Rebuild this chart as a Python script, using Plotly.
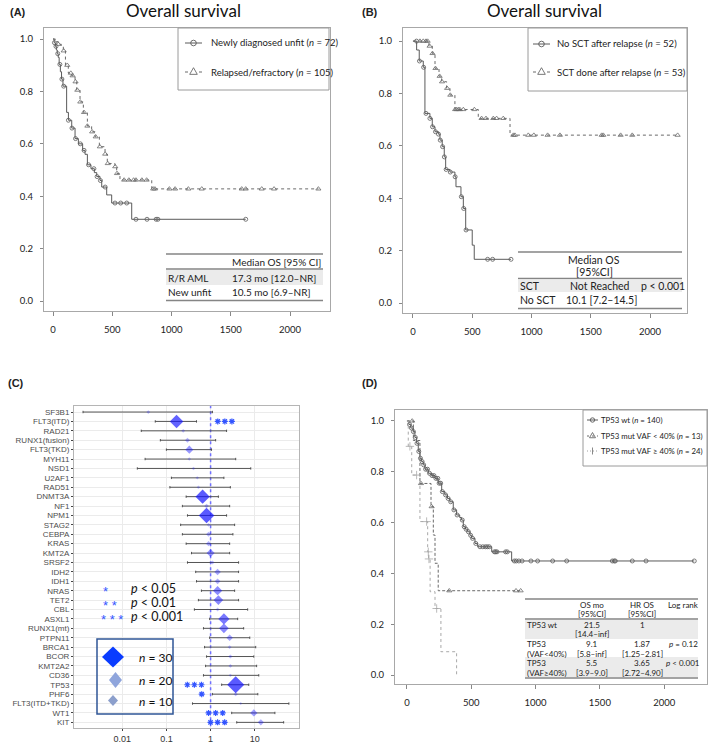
import numpy as np
import plotly.graph_objects as go

W, H = 709, 744
FONT = "Lato"
ARIAL = "Liberation Sans"

# ---- (A) overall survival: newly diagnosed unfit vs relapsed/refractory ----
a_new_t = [0, 10, 20, 28, 36, 44, 52, 62, 72, 84, 115, 130, 158, 186, 214, 250, 270, 290, 320, 349, 369, 397, 411, 453, 495, 664, 1626]
a_new_s = [1.0, 0.986, 0.972, 0.958, 0.944, 0.93, 0.903, 0.875, 0.847, 0.82, 0.72, 0.69, 0.66, 0.62, 0.6, 0.575, 0.56, 0.52, 0.505, 0.49, 0.475, 0.46, 0.435, 0.405, 0.374, 0.312, 0.312]
a_new_cens = [12, 25, 40, 58, 75, 90, 130, 160, 190, 230, 262, 300, 345, 372, 400, 440, 523, 571, 622, 700, 793, 870, 885, 1626]

a_rr_t = [0, 20, 45, 70, 87, 105, 129, 158, 186, 200, 228, 256, 290, 326, 355, 391, 439, 458, 523, 537, 565, 833, 2239]
a_rr_s = [1.0, 0.99, 0.98, 0.97, 0.955, 0.9, 0.87, 0.86, 0.837, 0.805, 0.76, 0.72, 0.668, 0.646, 0.627, 0.589, 0.561, 0.525, 0.513, 0.487, 0.462, 0.428, 0.428]
a_rr_cens = [45, 90, 120, 150, 165, 190, 205, 230, 262, 290, 330, 360, 395, 440, 462, 525, 540, 600, 640, 680, 700, 750, 790,
             845, 860, 982, 1030, 1142, 1255, 1592, 1626, 1761, 1865, 2239]

# ---- (B) SCT after relapse ----
b_no_t = [0, 31, 53, 87, 101, 143, 163, 186, 214, 228, 247, 264, 276, 312, 354, 363, 405, 425, 445, 500, 517, 827]
b_no_s = [1.0, 0.966, 0.924, 0.9, 0.724, 0.705, 0.673, 0.654, 0.645, 0.622, 0.597, 0.558, 0.51, 0.5, 0.482, 0.444, 0.406, 0.361, 0.279, 0.221, 0.167, 0.167]
b_no_cens = [30, 55, 90, 110, 143, 165, 190, 215, 230, 250, 265, 280, 315, 356, 408, 428, 448, 630, 672, 827]

b_sct_t = [0, 135, 163, 186, 220, 242, 284, 312, 354, 551, 819, 2233]
b_sct_s = [1.0, 0.981, 0.953, 0.896, 0.866, 0.845, 0.82, 0.794, 0.739, 0.705, 0.641, 0.641]
b_sct_cens = [59, 87, 110, 124, 140, 165, 190, 225, 245, 288, 315, 356, 368, 383, 396, 425, 518, 579, 616, 678, 706, 762,
              847, 860, 973, 1020, 1136, 1240, 1592, 1606, 1752, 1850, 2233]

# ---- (C) hazard ratios by mutated gene ----
genes = ["SF3B1", "FLT3(ITD)", "RAD21", "RUNX1(fusion)", "FLT3(TKD)", "MYH11", "NSD1", "U2AF1", "RAD51", "DNMT3A",
         "NF1", "NPM1", "STAG2", "CEBPA", "KRAS", "KMT2A", "SRSF2", "IDH2", "IDH1", "NRAS", "TET2", "CBL", "ASXL1",
         "RUNX1(mt)", "PTPN11", "BRCA1", "BCOR", "KMT2A2", "CD36", "TP53", "PHF6", "FLT3(ITD+TKD)", "WT1", "KIT"]
hr = [0.039, 0.17, 0.24, 0.30, 0.33, 0.33, 0.41, 0.50, 0.53, 0.66, 0.81, 0.81, 0.9, 0.9, 0.9, 1.0, 1.1, 1.44, 1.44,
      1.44, 1.5, 1.44, 2.0, 2.0, 2.7, 2.7, 2.8, 2.8, 2.8, 3.7, 3.7, 4.8, 9.5, 13.7]
hr_lo = [0.0013, 0.056, 0.027, 0.073, 0.10, 0.033, 0.022, 0.13, 0.12, 0.28, 0.23, 0.30, 0.21, 0.23, 0.28, 0.37, 0.30,
         0.46, 0.48, 0.62, 0.53, 0.43, 0.95, 0.69, 0.95, 0.73, 0.81, 0.77, 0.69, 1.78, 1.1, 0.39, 3.0, 3.9]
hr_hi = [1.1, 0.48, 2.3, 1.3, 1.05, 3.7, 8.1, 2.0, 2.8, 1.5, 2.7, 2.3, 3.5, 3.2, 2.7, 2.7, 4.3, 4.3, 4.3, 3.5, 4.3,
         6.9, 4.1, 5.6, 7.7, 10.5, 9.5, 11.0, 12.3, 7.3, 11.7, 59.0, 28.5, 45.0]
n_mut = [3, 28, 3, 6, 14, 2, 2, 2, 2, 30, 5, 33, 3, 6, 7, 14, 4, 10, 8, 17, 18, 3, 22, 18, 10, 3, 4, 3, 2, 37, 4, 1, 12, 9]
sig_genes = ["FLT3(ITD)", "TP53", "PHF6", "WT1", "KIT"]
sig_stars = [3, 3, 1, 3, 3]
sig_x = [2.1, 0.43, 0.63, 1.3, 1.44]

# ---- (D) TP53 status ----
d_wt_t = [0, 15, 30, 49, 62, 75, 88, 101, 114, 127, 140, 166, 192, 218, 243, 270, 295, 315, 334, 360, 386, 410, 425,
          438, 455, 472, 490, 503, 529, 550, 659, 814, 2234]
d_wt_s = [1.0, 0.986, 0.972, 0.958, 0.935, 0.912, 0.88, 0.853, 0.84, 0.827, 0.81, 0.794, 0.785, 0.774, 0.755, 0.722,
          0.709, 0.695, 0.682, 0.65, 0.63, 0.62, 0.61, 0.584, 0.574, 0.564, 0.55, 0.538, 0.518, 0.505, 0.485, 0.449, 0.449]
d_wt_cens = [20, 35, 50, 65, 78, 92, 105, 118, 130, 145, 160, 175, 195, 210, 225, 240, 250, 262, 275, 300, 320, 340,
             365, 390, 430, 445, 460, 478, 495, 510, 535, 568, 590, 610, 625, 640, 680, 690, 700, 767, 780, 835, 850,
             870, 895, 964, 1016, 1133, 1242, 1597, 1612, 1620, 1752, 1859, 2234]
d_lo_t = [0, 50, 101, 187, 205, 218, 243, 884]
d_lo_s = [1.0, 0.923, 0.754, 0.663, 0.551, 0.44, 0.332, 0.332]
d_lo_cens = [41, 109, 192, 329, 848, 884]
d_hi_t = [0, 10, 37, 101, 161, 168, 180, 218, 264, 386]
d_hi_s = [1.0, 0.9, 0.787, 0.604, 0.485, 0.457, 0.328, 0.262, 0.092, 0.0]
d_hi_cens = [23, 75, 153, 166, 171, 231]


def fx(x):
    return x / W


def fy(y):
    return 1 - y / H


def surv_at(ts, ss, t):
    val = ss[0]
    for ti, si in zip(ts, ss):
        if ti <= t:
            val = si
        else:
            break
    return val


fig = go.Figure()


def km(t, s, cens, ax, dash, color, symbol, msize, lw=1.0):
    xa, ya = ("x", "y") if ax == 1 else ("x%d" % ax, "y%d" % ax)
    fig.add_trace(go.Scatter(x=t, y=s, mode="lines", line=dict(shape="hv", color=color, width=lw, dash=dash),
                             xaxis=xa, yaxis=ya, showlegend=False, hoverinfo="skip"))
    cy = [surv_at(t, s, c) for c in cens]
    fig.add_trace(go.Scatter(x=cens, y=cy, mode="markers",
                             marker=dict(symbol=symbol, size=msize, color=color, line=dict(color=color, width=0.8)),
                             xaxis=xa, yaxis=ya, showlegend=False, hoverinfo="skip"))


km(a_new_t, a_new_s, a_new_cens, 1, "solid", "#5a5a5a", "circle-open", 4)
km(a_rr_t, a_rr_s, a_rr_cens, 1, "dot", "#6a6a6a", "triangle-up-open", 4.5)
km(b_no_t, b_no_s, b_no_cens, 2, "solid", "#5a5a5a", "circle-open", 4)
km(b_sct_t, b_sct_s, b_sct_cens, 2, "dot", "#6a6a6a", "triangle-up-open", 4.5)
km(d_wt_t, d_wt_s, d_wt_cens, 4, "solid", "#5a5a5a", "circle-open", 4)
km(d_lo_t, d_lo_s, d_lo_cens, 4, "3px,2px", "#6a6a6a", "triangle-up-open", 4.5)
km(d_hi_t, d_hi_s, d_hi_cens, 4, "dot", "#a8a8a8", "cross-thin-open", 6)

# forest plot
rows = list(range(len(genes)))
hr_a = np.array(hr)
sizes = [2 + 0.3 * n for n in n_mut]
cols = ["rgba(20,20,255,%.2f)" % min(1.0, 0.3 + 0.7 * n / 30) for n in n_mut]
fig.add_trace(go.Scatter(x=[1, 1], y=[-2, 40], mode="lines", line=dict(color="#7070ff", width=1.5, dash="dot"),
                         xaxis="x3", yaxis="y3", showlegend=False, hoverinfo="skip"))
fig.add_trace(go.Scatter(
    x=hr, y=rows, mode="markers", xaxis="x3", yaxis="y3", showlegend=False,
    marker=dict(symbol="diamond", size=sizes, color=cols, line=dict(width=0)),
    error_x=dict(type="data", symmetric=False, array=list(np.array(hr_hi) - hr_a),
                 arrayminus=list(hr_a - np.array(hr_lo)), color="#444444", thickness=0.9, width=1.2)))

# significance asterisks next to the rows
star_x, star_y = [], []
for g, k, sx in zip(sig_genes, sig_stars, sig_x):
    for j in range(k):
        star_x.append(sx * 10 ** ((j - (k - 1) / 2) * 0.16))
        star_y.append(genes.index(g))
fig.add_trace(go.Scatter(x=star_x, y=star_y, mode="markers", xaxis="x3", yaxis="y3", showlegend=False,
                         hoverinfo="skip",
                         marker=dict(symbol="asterisk-open", size=5, color="#3355ff",
                                     line=dict(color="#3355ff", width=1.2))))

ann = []
shapes = []


def text(x, y, s, size=10, anchor="left", color="#222222", family=FONT):
    ann.append(dict(x=fx(x), y=fy(y), xref="paper", yref="paper", text=s, showarrow=False,
                    xanchor=anchor, yanchor="middle", font=dict(size=size, color=color, family=family)))


def hline(x0, x1, y, color="#858585", width=1.5, dash="solid"):
    shapes.append(dict(type="line", xref="paper", yref="paper", x0=fx(x0), x1=fx(x1), y0=fy(y), y1=fy(y),
                       line=dict(color=color, width=width, dash=dash)))


def rect(x0, y0, x1, y1, fill="rgba(0,0,0,0)", line="rgba(0,0,0,0)", lw=0):
    shapes.append(dict(type="rect", xref="paper", yref="paper", x0=fx(x0), x1=fx(x1), y0=fy(y0), y1=fy(y1),
                       fillcolor=fill, line=dict(color=line, width=lw), layer="above"))


def circle(cx, cy, r, color="#5a5a5a"):
    shapes.append(dict(type="circle", xref="paper", yref="paper", x0=fx(cx - r), x1=fx(cx + r),
                       y0=fy(cy + r), y1=fy(cy - r), line=dict(color=color, width=0.9)))


def poly(pts, color="#6a6a6a", fill="rgba(0,0,0,0)", lw=0.9):
    p = "M " + " L ".join("%.5f,%.5f" % (fx(a), fy(b)) for a, b in pts) + " Z"
    shapes.append(dict(type="path", xref="paper", yref="paper", path=p, fillcolor=fill,
                       line=dict(color=color, width=lw)))


def tri(cx, cy, r, color="#6a6a6a"):
    poly([(cx, cy - r), (cx + r, cy + r * 0.75), (cx - r, cy + r * 0.75)], color=color)


def diamond(cx, cy, w, h, fill):
    poly([(cx, cy - h / 2), (cx + w / 2, cy), (cx, cy + h / 2), (cx - w / 2, cy)], color=fill, fill=fill, lw=0)


# panel labels and titles
for lx, ly, lab in [(8, 12, "(A)"), (360, 12, "(B)"), (6, 383, "(C)"), (360, 383, "(D)")]:
    text(lx, ly, "<b>%s</b>" % lab, size=11, family=ARIAL)
text(183, 11, "Overall survival", size=17, anchor="center", color="#111111")
text(544, 11, "Overall survival", size=17, anchor="center", color="#111111")

# legend A
rect(178, 28, 329, 90, line="#9a9a9a", lw=1)
hline(185, 202, 43, color="#5a5a5a", width=1)
circle(193.5, 43, 2.8)
hline(185, 202, 72, color="#6a6a6a", width=1, dash="3px,4px")
shapes.append(dict(type="rect", xref="paper", yref="paper", x0=fx(189), x1=fx(198), y0=fy(76), y1=fy(67),
                   fillcolor="white", line=dict(width=0)))
tri(193.5, 71.5, 3.8)
text(209, 43, "Newly diagnosed unfit (<i>n</i> = 72)", size=9.5)
text(209, 72, "Relapsed/refractory (<i>n</i> = 105)", size=9.5)

# table A
hline(166, 323, 254)
text(230, 261.5, "Median OS [95% CI]", size=10)
hline(166, 323, 269)
rect(166, 270, 323, 285, fill="#ebebeb")
text(166, 277.5, "R/R AML", size=10)
text(230, 277.5, "17.3 mo [12.0–NR]", size=10)
text(166, 292.5, "New unfit", size=10)
text(230, 292.5, "10.5 mo [6.9–NR]", size=10)
hline(166, 323, 300.5)

# legend B
rect(528, 28, 687, 91, line="#9a9a9a", lw=1)
hline(533, 550, 44, color="#5a5a5a", width=1)
circle(541.5, 44, 2.8)
hline(533, 550, 72, color="#6a6a6a", width=1, dash="3px,4px")
shapes.append(dict(type="rect", xref="paper", yref="paper", x0=fx(537), x1=fx(546), y0=fy(76), y1=fy(67),
                   fillcolor="white", line=dict(width=0)))
tri(541.5, 71.5, 3.8)
text(555, 44, "No SCT after relapse (<i>n</i> = 52)", size=9.5)
text(555, 72, "SCT done after relapse (<i>n</i> = 53)", size=9.5)

# table B
hline(518, 682, 252)
text(594, 259.5, "Median OS", size=10.5, anchor="center")
text(594, 272, "[95%CI]", size=10.5, anchor="center")
hline(518, 682, 278.5)
rect(518, 279.5, 682, 292, fill="#ebebeb")
text(518, 285.5, "SCT", size=10.5)
text(600, 285.5, "Not Reached", size=10.5, anchor="center")
text(639, 285.5, "p < 0.001", size=10.5)
text(518, 300, "No SCT", size=10.5)
text(601, 300, "10.1 [7.2–14.5]", size=10.5, anchor="center")
hline(518, 682, 308.5)

# legend D
rect(583, 410, 707, 466, line="#9a9a9a", lw=1)
hline(587, 598, 420, color="#5a5a5a", width=1)
circle(592.5, 420, 2.2)
hline(587, 598, 436, color="#6a6a6a", width=1, dash="2px,3px")
tri(592.5, 435.5, 3.0)
hline(587, 598, 451, color="#a0a0a0", width=1, dash="1px,2px")
shapes.append(dict(type="line", xref="paper", yref="paper", x0=fx(592.5), x1=fx(592.5), y0=fy(447.5), y1=fy(454.5),
                   line=dict(color="#888888", width=1)))
text(599, 420, "TP53 wt (<i>n</i> = 140)", size=7.8)
text(599, 436, "TP53 mut VAF < 40% (<i>n</i> = 13)", size=7.8)
text(599, 451, "TP53 mut VAF ≥ 40% (<i>n</i> = 24)", size=7.8)

# table D
hline(525, 698, 599)
text(592, 604.5, "OS mo", size=8, anchor="center")
text(592, 614, "[95%CI]", size=8, anchor="center")
text(642, 604.5, "HR OS", size=8, anchor="center")
text(642, 614, "[95%CI]", size=8, anchor="center")
text(683, 604.5, "Log rank", size=8, anchor="center")
hline(525, 698, 619)
rect(525, 620, 698, 639, fill="#ebebeb")
rect(525, 657, 698, 677, fill="#ebebeb")
text(525, 624.5, "TP53 wt", size=8)
text(592, 624.5, "21.5", size=8, anchor="center")
text(592, 634, "[14.4–inf]", size=8, anchor="center")
text(642, 624.5, "1", size=8, anchor="center")
text(525, 644, "TP53", size=8)
text(525, 653.5, "(VAF<40%)", size=8)
text(592, 644, "9.1", size=8, anchor="center")
text(592, 653.5, "[5.8–inf]", size=8, anchor="center")
text(642, 644, "1.87", size=8, anchor="center")
text(642, 653.5, "[1.25–2.81]", size=8, anchor="center")
text(683, 644, "<i>p</i> = 0.12", size=8, anchor="center")
text(525, 663, "TP53", size=8)
text(525, 672.5, "(VAF≥40%)", size=8)
text(592, 663, "5.5", size=8, anchor="center")
text(592, 672.5, "[3.9–9.0]", size=8, anchor="center")
text(642, 663, "3.65", size=8, anchor="center")
text(642, 672.5, "[2.72–4.90]", size=8, anchor="center")
text(683, 663, "<i>p</i> < 0.001", size=8, anchor="center")
hline(525, 698, 678)

# panel C significance key and size legend
text(106, 591, "*", size=13, anchor="center", color="#3355ff", family=ARIAL)
text(110, 605, "* *", size=13, anchor="center", color="#3355ff", family=ARIAL)
text(112, 619, "* * *", size=13, anchor="center", color="#3355ff", family=ARIAL)
text(129, 588, "<i>p</i> < 0.05", size=12.5, color="#111111")
text(129, 602, "<i>p</i> < 0.01", size=12.5, color="#111111")
text(129, 616, "<i>p</i> < 0.001", size=12.5, color="#111111")
rect(97, 639, 173, 714, line="#2f5597", lw=1.5)
diamond(113, 657, 22, 21, "#0a3cff")
diamond(115.5, 680, 13, 16, "#8fa5dc")
diamond(113, 700.5, 10, 11, "#8c9fcc")
text(137, 657.5, "<i>n</i> = 30", size=12, color="#111111")
text(137, 680, "<i>n</i> = 20", size=12, color="#111111")
text(137, 701, "<i>n</i> = 10", size=12, color="#111111")

km_x = dict(showline=True, mirror=True, linecolor="#a8a8a8", linewidth=1, showgrid=False, zeroline=False,
            ticks="outside", ticklen=4, tickcolor="#888888", tickfont=dict(size=9.5, family=FONT, color="#222222"),
            tickvals=[0, 500, 1000, 1500, 2000], ticklabelstandoff=6)
km_y = dict(showline=True, mirror=True, linecolor="#a8a8a8", linewidth=1, showgrid=False, zeroline=False,
            ticks="outside", ticklen=3, tickcolor="#888888", tickfont=dict(size=9.5, family=FONT, color="#222222"),
            tickvals=[0, 0.2, 0.4, 0.6, 0.8, 1.0], tickformat=".1f", ticklabelstandoff=5)

fig.update_layout(
    width=W, height=H, margin=dict(l=0, r=0, t=0, b=0),
    paper_bgcolor="white", plot_bgcolor="white", showlegend=False,
    xaxis=dict(domain=[fx(44), fx(330)], range=[-76, 2337], anchor="y", **km_x),
    yaxis=dict(domain=[fy(311), fy(28)], range=[-0.038, 1.042], anchor="x", **km_y),
    xaxis2=dict(domain=[fx(403), fx(687)], range=[-84, 2312], anchor="y2", **km_x),
    yaxis2=dict(domain=[fy(313), fy(28)], range=[-0.038, 1.05], anchor="x2", **km_y),
    xaxis4=dict(domain=[fx(395), fx(707)], range=[-93, 2333], anchor="y4", **km_x),
    yaxis4=dict(domain=[fy(684), fy(410)], range=[-0.035, 1.043], anchor="x4", **km_y),
    xaxis3=dict(domain=[fx(74), fx(299)], type="log", range=[-3.09, 2.0], anchor="y3",
                tickvals=[0.01, 0.1, 1, 10], ticktext=["0.01", "0.1", "1", "10"],
                showline=True, mirror=True, linecolor="#b5b5b5", showgrid=True, gridcolor="#ebebeb",
                zeroline=False, ticks="outside", ticklen=2, tickcolor="#444444",
                tickfont=dict(size=9, family=ARIAL, color="#333333")),
    yaxis3=dict(domain=[fy(728), fy(406)], range=[33.6, -0.64], anchor="x3",
                tickvals=rows, ticktext=genes, showline=True, mirror=True, linecolor="#b5b5b5",
                showgrid=True, gridcolor="#ebebeb", zeroline=False, ticks="outside", ticklen=2,
                tickcolor="#444444", tickfont=dict(size=8, family=ARIAL, color="#4d4d4d")),
    annotations=ann, shapes=shapes,
)

# the page body margin would push the 709x744 figure out of the window
fig.write_html("out.html", config={"displayModeBar": False},
               post_script="document.body.style.margin='0';document.body.style.overflow='hidden';")
